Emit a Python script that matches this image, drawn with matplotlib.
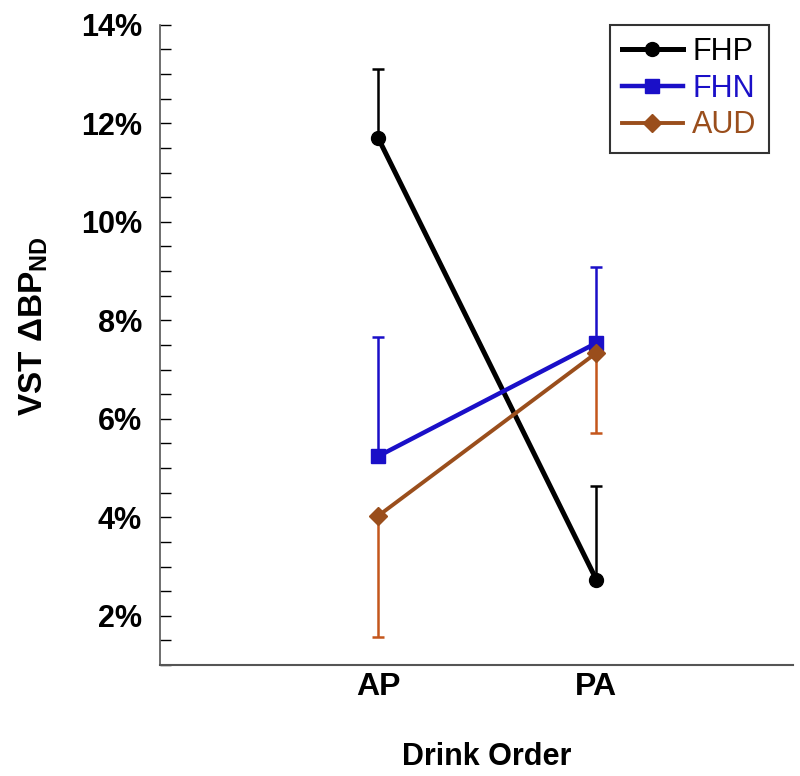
import matplotlib
matplotlib.use("Agg")
import matplotlib.pyplot as plt
from matplotlib.ticker import MultipleLocator, FuncFormatter

plt.rcParams['font.family'] = ['Liberation Sans', 'DejaVu Sans']
plt.rcParams['mathtext.fontset'] = 'custom'
plt.rcParams['mathtext.rm'] = 'Liberation Sans:bold'
plt.rcParams['mathtext.bf'] = 'Liberation Sans:bold'

categories = ['AP', 'PA']
groups = ['FHP', 'FHN', 'AUD']
means = {
    'FHP': [11.70, 2.73],
    'FHN': [5.24, 7.54],
    'AUD': [4.03, 7.34],
}
# one-sided error sizes (upper for FHP/FHN, lower for AUD)
errs = {
    'FHP': [1.41, 1.90],
    'FHN': [2.42, 1.55],
    'AUD': [2.46, 1.63],
}
err_dir = {'FHP': 'up', 'FHN': 'up', 'AUD': 'down'}
line_colors = {'FHP': '#000000', 'FHN': '#1a0fc8', 'AUD': '#9a4e1c'}
err_colors = {'FHP': '#000000', 'FHN': '#1a0fc8', 'AUD': '#c4561c'}
markers = {'FHP': 'o', 'FHN': 's', 'AUD': 'D'}
msizes = {'FHP': 10, 'FHN': 10, 'AUD': 9}
lws = {'FHP': 3.6, 'FHN': 3.2, 'AUD': 2.8}

fig = plt.figure(figsize=(8, 7.76), dpi=100)
ax = fig.add_axes([0.2, 0.143, 0.791, 0.825])

x = list(range(len(categories)))
for g in groups:
    e = errs[g]
    if err_dir[g] == 'up':
        yerr = [[0] * len(e), e]
    else:
        yerr = [e, [0] * len(e)]
    ax.errorbar(x, means[g], yerr=yerr, fmt='none', ecolor=err_colors[g],
                elinewidth=1.8, capsize=4, capthick=1.8, zorder=2)
for g in groups:
    ax.plot(x, means[g], color=line_colors[g], lw=lws[g], marker=markers[g],
            markersize=msizes[g], label=g, zorder=3)

ax.set_xlim(-1, 1.9)
ax.set_ylim(1, 14)
ax.set_xticks(x)
ax.set_xticklabels(categories, fontsize=23, fontweight='bold')
ax.tick_params(axis='x', length=0, pad=5)
ax.yaxis.set_major_locator(MultipleLocator(2))
ax.yaxis.set_minor_locator(MultipleLocator(0.5))
ax.yaxis.set_major_formatter(FuncFormatter(lambda v, p: f"{v:.0f}%" if v >= 2 else ""))
ax.tick_params(axis='y', which='both', direction='in', length=8, width=1, labelsize=22, pad=13)
for lab in ax.get_yticklabels():
    lab.set_fontweight('bold')

ax.spines['top'].set_visible(False)
ax.spines['right'].set_visible(False)
ax.spines['left'].set_color('#555555')
ax.spines['bottom'].set_color('#555555')
ax.spines['left'].set_linewidth(1.2)
ax.spines['bottom'].set_linewidth(1.5)

ax.set_xlabel('Drink Order', fontsize=22, fontweight='bold', va='center')
ax.xaxis.set_label_coords(0.517, -0.144)
ax.set_ylabel(r'VST ΔBP$_{\mathbf{ND}}$', fontsize=24, fontweight='bold', va='center')
ax.yaxis.set_label_coords(-0.2, 0.53)

leg = ax.legend(loc='upper right', bbox_to_anchor=(0.962, 1.0), borderaxespad=0,
                fontsize=22, frameon=True, fancybox=False, handlelength=2.0,
                handletextpad=0.3, labelspacing=0.22, borderpad=0.4)
leg.get_frame().set_edgecolor('black')
leg.get_frame().set_linewidth(1.5)
for t, g in zip(leg.get_texts(), groups):
    t.set_color(line_colors[g])

fig.savefig('out.png', dpi=100)
